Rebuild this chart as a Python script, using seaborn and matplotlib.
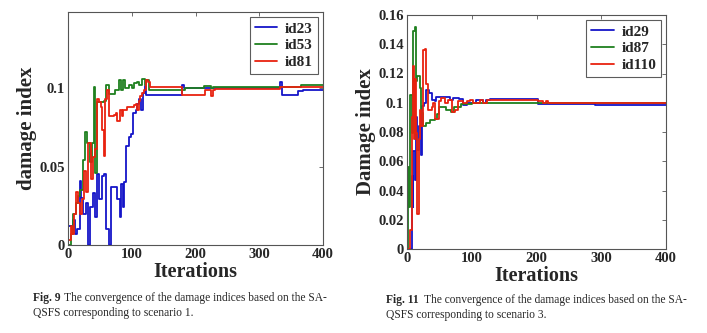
import numpy as np
import pandas as pd
import matplotlib
matplotlib.use("Agg")
import matplotlib.pyplot as plt
import seaborn as sns

sns.set_style("white")
plt.rcParams['font.family'] = ['Liberation Serif', 'DejaVu Serif']

# ---- Fig. 9 data (scenario 1) ----
id23_it = [0,4,8,11,14,19,21,24,28,32,35,39,43,45,48,53,57,60,64,68,74,77,81,83,86,88,91,95,99,102,106,108,112,114,117,120,123,176,179,182,330,332,335,345,360,368,400]
id23_v = [0.012,0.012,0.016,0.007,0.010,0.041,0.030,0.020,0.027,0.0,0.024,0.033,0.018,0.045,0.029,0.044,0.045,0.010,0.0,0.037,0.037,0.029,0.018,0.039,0.024,0.040,0.063,0.069,0.071,0.084,0.086,0.090,0.093,0.086,0.097,0.1015,0.0955,0.0955,0.102,0.100,0.100,0.1036,0.0957,0.0957,0.098,0.099,0.099]

id53_it = [0,4,8,12,15,19,24,27,30,34,38,40,43,46,51,56,60,64,69,74,80,83,86,90,95,100,103,108,112,116,120,123,127,181,183,214,223,225,228,362,365,400]
id53_v = [0.0,0.007,0.020,0.027,0.031,0.035,0.054,0.072,0.065,0.053,0.065,0.101,0.046,0.091,0.091,0.092,0.102,0.096,0.096,0.099,0.105,0.099,0.105,0.100,0.102,0.100,0.103,0.104,0.102,0.106,0.102,0.105,0.099,0.099,0.100,0.1015,0.1015,0.100,0.1007,0.1007,0.1022,0.1022]

id81_it = [0,4,6,9,12,15,19,22,25,28,31,34,36,39,42,45,49,52,53,56,58,61,64,72,75,77,81,85,87,92,100,103,106,108,111,113,116,119,122,126,129,176,179,213,215,222,224,228,230,330,333,365,367,400]
id81_v = [0.003,0.012,0.007,0.020,0.034,0.027,0.020,0.029,0.047,0.034,0.065,0.065,0.042,0.056,0.061,0.093,0.091,0.088,0.073,0.057,0.093,0.099,0.082,0.083,0.084,0.079,0.086,0.082,0.086,0.088,0.088,0.089,0.090,0.086,0.092,0.095,0.097,0.099,0.105,0.104,0.101,0.101,0.0957,0.0957,0.0985,0.0985,0.095,0.0985,0.0994,0.0994,0.1006,0.1006,0.101,0.101]

# ---- Fig. 11 data (scenario 3) ----
id29_it = [0,4,7,8,9,10,12,14,16,19,21,23,26,30,34,38,43,45,61,66,71,81,87,92,99,107,117,122,128,200,202,288,290,400]
id29_v = [0.0,0.0,0.015,0.050,0.029,0.067,0.047,0.090,0.068,0.084,0.064,0.098,0.100,0.109,0.107,0.102,0.101,0.104,0.104,0.102,0.103,0.1025,0.0985,0.100,0.100,0.102,0.100,0.102,0.1025,0.1025,0.099,0.099,0.0985,0.0985]

id87_it = [0,1.5,3,5,7,9,12,14,16,20,22,25,30,35,43,46,49,55,61,68,73,78,84,100,400]
id87_v = [0.0,0.056,0.029,0.105,0.079,0.149,0.152,0.115,0.118,0.110,0.093,0.084,0.086,0.088,0.089,0.092,0.097,0.097,0.095,0.094,0.097,0.097,0.099,0.100,0.100]

id110_it = [0,4,5,7,9,11,13,14,16,18,20,22,24,28,30,32,38,40,43,46,49,53,58,63,69,74,79,87,92,97,102,107,112,118,123,200,202,210,215,218,400]
id110_v = [0.0,0.0,0.013,0.090,0.125,0.075,0.116,0.079,0.024,0.075,0.095,0.084,0.136,0.137,0.113,0.095,0.097,0.100,0.089,0.089,0.101,0.103,0.100,0.102,0.094,0.095,0.101,0.100,0.101,0.102,0.100,0.0995,0.102,0.100,0.102,0.102,0.101,0.100,0.1015,0.100,0.100]

colors = ['#1515c8', '#1f801f', '#e8220f']

def make_df(series):
    frames = []
    for name, it, v in series:
        frames.append(pd.DataFrame({'Iterations': it, 'value': v, 'id': name}))
    return pd.concat(frames, ignore_index=True)

df9 = make_df([('id23', id23_it, id23_v), ('id53', id53_it, id53_v), ('id81', id81_it, id81_v)])
df11 = make_df([('id29', id29_it, id29_v), ('id87', id87_it, id87_v), ('id110', id110_it, id110_v)])

fig = plt.figure(figsize=(7.07, 3.33), dpi=100)
ax1 = fig.add_axes([68/707, 1-245/333, 255/707, 233/333])
ax2 = fig.add_axes([407/707, 1-249/333, 259/707, 234/333])

for ax, df, ylim, yticks, yticklabels, ylabel in [
        (ax1, df9, 0.1485, [0, 0.05, 0.1], ['0', '0.05', '0.1'], 'damage index'),
        (ax2, df11, 0.16, [0,0.02,0.04,0.06,0.08,0.1,0.12,0.14,0.16],
         ['0','0.02','0.04','0.06','0.08','0.1','0.12','0.14','0.16'], 'Damage index')]:
    sns.lineplot(data=df, x='Iterations', y='value', hue='id', palette=colors,
                 estimator=None, sort=False, drawstyle='steps-post', linewidth=1.3, ax=ax)
    ax.set_xlim(0, 400)
    ax.set_ylim(0, ylim)
    ax.set_xticks([0, 100, 200, 300, 400])
    ax.set_xticklabels(['0', '100', '200', '300', '400'], fontsize=10.5, fontweight='bold')
    ax.set_yticks(yticks)
    ax.set_yticklabels(yticklabels, fontsize=10.5, fontweight='bold')
    ax.tick_params(direction='in', top=True, right=True, length=3, width=0.6, color='#555555', pad=2)
    ax.set_xlabel('Iterations', fontsize=14.5, fontweight='bold', labelpad=1)
    ax.set_ylabel(ylabel, fontsize=15, fontweight='bold', labelpad=2)
    for s in ax.spines.values():
        s.set_color('#555555')
        s.set_linewidth(0.8)
    leg = ax.legend(loc='upper right', frameon=True, fancybox=False,
                    edgecolor='#333333', handlelength=1.5, handletextpad=0.5,
                    borderaxespad=0.35, borderpad=0.3, labelspacing=0.2,
                    prop={'weight': 'bold', 'size': 11})
    leg.get_frame().set_linewidth(0.8)

fig.text(33/707, 1-298/333, 'Fig. 9', fontsize=8.3, fontweight='bold', va='center')
fig.text(64/707, 1-298/333, 'The convergence of the damage indices based on the SA-', fontsize=8.3, va='center')
fig.text(33/707, 1-313/333, 'QSFS corresponding to scenario 1.', fontsize=8.3, va='center')
fig.text(386/707, 1-300/333, 'Fig. 11', fontsize=8.3, fontweight='bold', va='center')
fig.text(424/707, 1-300/333, 'The convergence of the damage indices based on the SA-', fontsize=8.3, va='center')
fig.text(386/707, 1-315/333, 'QSFS corresponding to scenario 3.', fontsize=8.3, va='center')

fig.savefig('out.png', dpi=100)
